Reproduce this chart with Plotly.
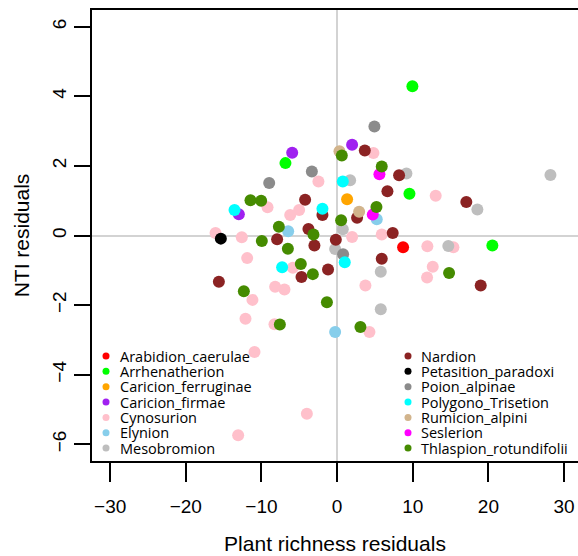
import plotly.graph_objects as go

# ---- data ----
groups = ["Arabidion_caerulae", "Arrhenatherion", "Caricion_ferruginae", "Caricion_firmae",
          "Cynosurion", "Elynion", "Mesobromion", "Nardion", "Petasition_paradoxi",
          "Poion_alpinae", "Polygono_Trisetion", "Rumicion_alpini", "Seslerion",
          "Thlaspion_rotundifolii"]
colors = ["#FF0000", "#00FF00", "#FFA500", "#A020F0", "#FFC0CB", "#87CEEB", "#BEBEBE",
          "#8B2323", "#000000", "#8B8B8B", "#00FFFF", "#D2B48C", "#FF00FF", "#458B00"]

arabidion_x = [8.72]
arabidion_y = [-0.34]
arrhen_x = [9.95, -6.83, 9.56, 20.52]
arrhen_y = [4.29, 2.08, 1.20, -0.29]
ferrug_x = [1.32]
ferrug_y = [1.04]
firmae_x = [-5.94, 1.98, -12.99]
firmae_y = [2.38, 2.61, 0.61]
cynos_x = [-2.47, -9.2, -6.2, -5.02, -16.07, -12.6, 4.8, 13.03, 5.9, 1.98, 11.93, 15.37,
           12.64, 11.89, 3.74, 4.27, -11.89, -5.85, -8.19, -6.96, -11.19, -12.11, -8.28,
           -10.92, -4.0, -13.08]
cynos_y = [1.55, 0.81, 0.59, 0.73, 0.07, -0.05, 2.37, 1.14, 0.03, -0.04, -0.31, -0.34,
           -0.90, -1.21, -1.44, -2.77, -0.65, -0.93, -1.47, -1.55, -1.85, -2.39, -2.55,
           -3.35, -5.12, -5.74]
elyn_x = [-6.47, 5.24, -0.26]
elyn_y = [0.12, 0.47, -2.77]
meso_x = [9.16, 28.2, 1.72, 18.54, 0.75, 14.7, -0.26, 5.77, 5.77]
meso_y = [1.78, 1.74, 1.59, 0.75, 0.18, -0.30, -0.39, -1.04, -2.12]
nard_x = [-4.23, -1.94, -3.79, -7.93, -3.0, -0.17, 3.66, 8.19, 6.65, 17.08, 2.64, 7.35,
          5.9, 18.98, -4.71, -1.2, -15.63]
nard_y = [1.03, 0.59, 0.19, -0.11, -0.29, -0.12, 2.44, 1.73, 1.27, 0.96, 0.51, 0.07,
          -0.67, -1.44, -1.19, -0.98, -1.33]
petas_x = [-15.37]
petas_y = [-0.09]
poion_x = [-3.34, -8.98, 4.93, 0.79]
poion_y = [1.84, 1.51, 3.13, -0.54]
polyg_x = [-13.56, -1.94, 0.75, 1.01, -7.27]
polyg_y = [0.73, 0.77, 1.55, -0.77, -0.91]
rumic_x = [0.31, 2.91]
rumic_y = [2.42, 0.68]
sesl_x = [5.59, 4.71]
sesl_y = [1.76, 0.60]
thlasp_x = [-11.45, -10.04, -7.7, -3.13, -9.95, -6.51, 0.62, 5.9, 5.2, 0.53, 14.8, -1.35,
            3.08, -4.8, -3.21, -12.33, -7.57]
thlasp_y = [1.01, 1.00, 0.25, 0.03, -0.16, -0.38, 2.30, 1.98, 0.82, 0.44, -1.08, -1.92,
            -2.63, -0.82, -1.11, -1.60, -2.56]

xs = [arabidion_x, arrhen_x, ferrug_x, firmae_x, cynos_x, elyn_x, meso_x, nard_x,
      petas_x, poion_x, polyg_x, rumic_x, sesl_x, thlasp_x]
ys = [arabidion_y, arrhen_y, ferrug_y, firmae_y, cynos_y, elyn_y, meso_y, nard_y,
      petas_y, poion_y, polyg_y, rumic_y, sesl_y, thlasp_y]

x_ticks = [-30, -20, -10, 0, 10, 20, 30]
y_ticks = [-6, -4, -2, 0, 2, 4, 6]

W, H = 578, 556
L, R, T, B = 92, 0, 10, 95

fig = go.Figure()
for name, col, x, y in zip(groups, colors, xs, ys):
    fig.add_trace(go.Scatter(x=x, y=y, mode="markers", name=name, showlegend=False,
                             marker=dict(size=12, color=col, line=dict(width=0))))

# ---- custom two-column legend (overlay axes in pixel units of the plot area) ----
pw = W - L - R
ph = H - T - B
row0, drow = 356 - T, 15.35
cols_x = [(106 - L, 119 - L), (408 - L, 420 - L)]
for i, (name, col) in enumerate(zip(groups, colors)):
    c = 0 if i < 7 else 1
    r = i % 7
    kx, tx = cols_x[c]
    ky = row0 + r * drow
    fig.add_trace(go.Scatter(x=[kx], y=[ky], xaxis="x2", yaxis="y2", mode="markers",
                             showlegend=False, hoverinfo="skip",
                             marker=dict(size=7, color=col, line=dict(width=0))))
    fig.add_annotation(x=tx, y=ky, xref="x2", yref="y2", text=name, showarrow=False,
                       xanchor="left", yanchor="middle", borderpad=0,
                       font=dict(family="Open Sans", size=14.5, color="black"))

axis_font = dict(family="Liberation Sans, Arial", size=19, color="black")
fig.update_layout(
    width=W, height=H,
    margin=dict(l=L, r=R, t=T, b=B, pad=0),
    paper_bgcolor="white", plot_bgcolor="white",
    showlegend=False,
    xaxis=dict(range=[-32.4, (W - L - R) / 486 * 64.24 - 32.4], tickvals=x_ticks,
               ticks="outside", ticklen=19, tickwidth=1.5, tickcolor="black",
               ticklabelstandoff=8,
               showline=True, linecolor="black", linewidth=2, mirror=True,
               showgrid=False, zeroline=True, zerolinecolor="#D3D3D3", zerolinewidth=2,
               tickfont=axis_font,
               title=dict(text="Plant richness residuals", standoff=21,
                          font=dict(family="Liberation Sans, Arial", size=21, color="black"))),
    yaxis=dict(range=[-6.48, 6.48], tickvals=y_ticks, tickangle=-90,
               ticks="outside", ticklen=16, tickwidth=1.5, tickcolor="black",
               showline=True, linecolor="black", linewidth=2, mirror=False,
               showgrid=False, zeroline=True, zerolinecolor="#D3D3D3", zerolinewidth=2,
               tickfont=axis_font,
               title=dict(text="NTI residuals", standoff=14,
                          font=dict(family="Liberation Sans, Arial", size=21, color="black"))),
    xaxis2=dict(overlaying="x", range=[0, pw], visible=False, fixedrange=True),
    yaxis2=dict(overlaying="y", range=[ph, 0], visible=False, fixedrange=True),
)

fig.write_html("out.html")
